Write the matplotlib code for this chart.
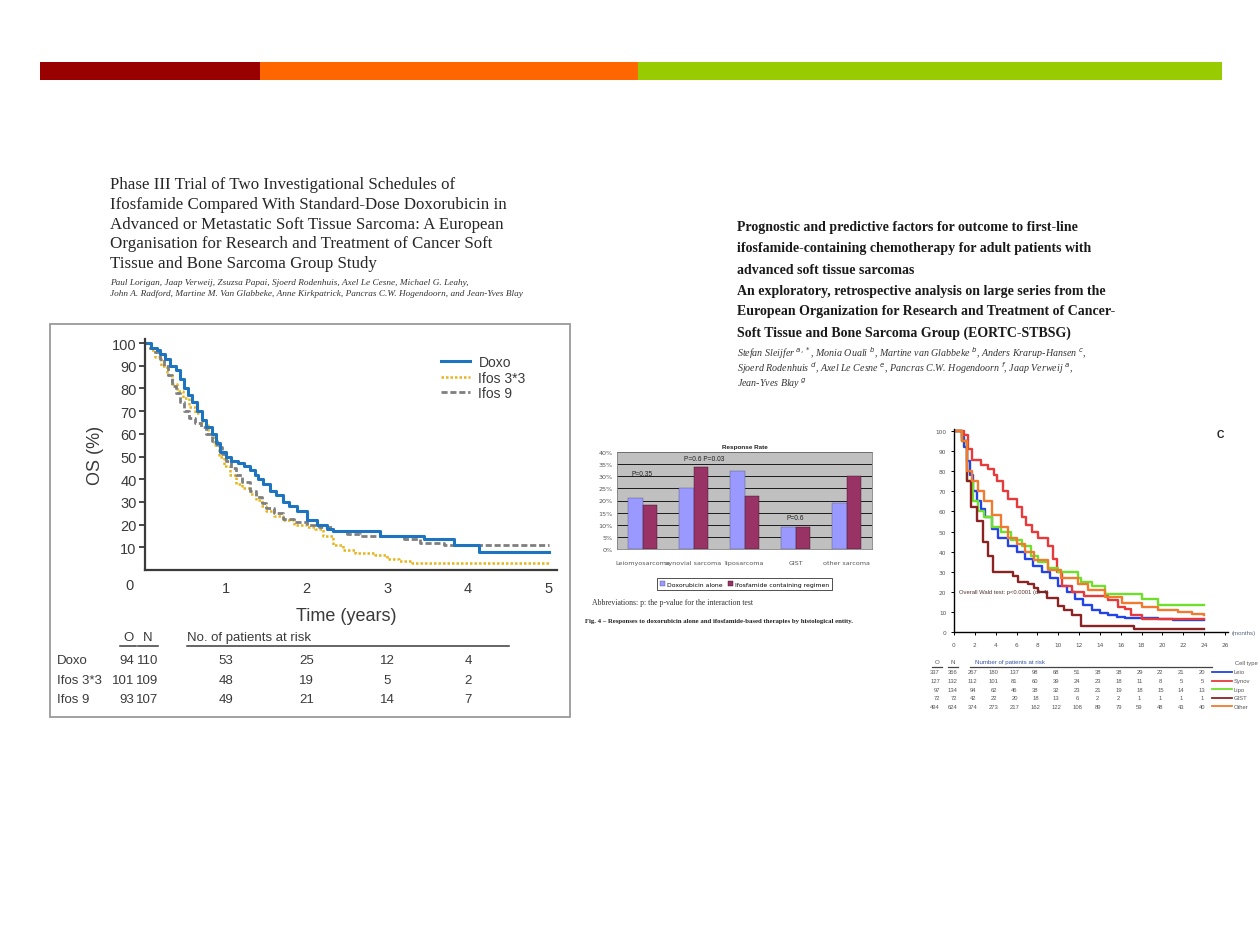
import matplotlib
matplotlib.use("Agg")
import matplotlib.pyplot as plt
from matplotlib.patches import Rectangle
from matplotlib.lines import Line2D

W, H = 1260, 945
SANS = ['Liberation Sans', 'DejaVu Sans']
SERIF = ['Liberation Serif', 'DejaVu Serif']

# ---------------- data: left KM (years, OS %) ----------------
doxo_t = [0, 0.08, 0.15, 0.19, 0.25, 0.31, 0.38, 0.43, 0.48, 0.53, 0.58, 0.64, 0.70, 0.76, 0.83, 0.88,
          0.93, 1.00, 1.07, 1.15, 1.22, 1.30, 1.36, 1.40, 1.46, 1.55, 1.62, 1.71, 1.78, 1.88, 2.00,
          2.13, 2.25, 2.33, 2.91, 3.45, 3.82, 4.13, 5.0]
doxo_s = [100, 98, 97, 95, 93, 90, 88, 84, 80, 77, 74, 70, 66, 63, 60, 56,
          52, 50, 48, 47, 46, 44, 42, 40, 38, 35, 33, 30, 28, 26, 22,
          20, 18, 17, 15, 13.6, 10.9, 8, 8]
ifos33_t = [0, 0.06, 0.12, 0.2, 0.27, 0.33, 0.4, 0.47, 0.55, 0.62, 0.7, 0.78, 0.85, 0.92, 0.98, 1.05,
            1.13, 1.2, 1.3, 1.38, 1.45, 1.5, 1.6, 1.71, 1.85, 2.0, 2.1, 2.2, 2.33, 2.45, 2.6, 2.85,
            3.0, 3.15, 3.3, 5.0]
ifos33_s = [100, 97, 94, 90, 86, 82, 79, 76, 72, 69, 65, 60, 55, 50, 46, 42,
            38, 36, 33.5, 31, 28, 26, 24, 22, 20, 19, 18, 15, 11, 9, 7.7, 6.5,
            5, 4, 3.2, 3.2]
ifos9_t = [0, 0.06, 0.12, 0.18, 0.24, 0.29, 0.33, 0.38, 0.43, 0.48, 0.55, 0.62, 0.69, 0.76, 0.83, 0.89,
           0.95, 1.0, 1.06, 1.13, 1.2, 1.3, 1.38, 1.45, 1.5, 1.6, 1.71, 1.85, 2.0, 2.15, 2.33, 2.5,
           2.66, 3.2, 3.4, 3.7, 5.0]
ifos9_s = [100, 98, 96, 93, 90, 86, 81, 78, 74, 70, 67, 65, 63, 60, 57, 54,
           51, 48, 45, 42, 39, 35, 32, 29.5, 27.5, 25, 22.5, 21, 20, 19, 17, 16,
           15, 13.6, 12, 11, 11]
left_years = [1, 2, 3, 4, 5]
left_groups = ['Doxo', 'Ifos 3*3', 'Ifos 9']
left_O = [94, 101, 93]
left_N = [110, 109, 107]
left_risk = [[53, 25, 12, 4], [48, 19, 5, 2], [49, 21, 14, 7]]

# ---------------- data: bar chart ----------------
bar_categories = ['Leiomyosarcoma', 'synovial sarcoma', 'liposarcoma', 'GIST', 'other sarcoma']
doxo_rr = [21, 25, 32, 9, 19]
ifos_rr = [18, 34, 22, 9, 30]
bar_series = ['Doxorubicin alone', 'Ifosfamide containing regimen']
p_labels = [(0, 31, 'P=0.35'), (1.2, 37.5, 'P=0.6 P=0.03'), (3, 13, 'P=0.6')]

# ---------------- data: right KM (months, %) ----------------
leio_t = [0, 0.8, 1.0, 1.2, 1.5, 1.8, 2.2, 2.6, 3.0, 3.6, 4.2, 5.2, 6.0, 6.8, 7.6, 8.4, 9.2, 10, 10.8,
          11.6, 12.4, 13.2, 14, 14.8, 15.6, 16.4, 19.6, 21, 24]
leio_s = [100, 97, 92, 85, 78, 70, 65, 61, 57, 51, 47, 43, 40, 36.5, 33, 30, 27, 23, 20,
          16.6, 13.5, 10.8, 9.5, 8.3, 7.5, 7, 6.6, 6, 5.8]
syn_t = [0, 1.0, 1.3, 1.7, 2.6, 3.3, 3.8, 4.1, 4.7, 5.2, 6.0, 6.5, 6.9, 7.5, 8.1, 9.0, 9.5, 9.9, 10.4,
         11.3, 12.5, 14.8, 15.7, 16.4, 17.0, 18.0, 20.2, 24]
syn_s = [100, 98, 91, 85.4, 83, 81, 78, 75, 70, 66, 62, 57, 53, 50, 47, 43, 36.5, 30, 23,
         20, 18, 15.8, 12.5, 11.6, 8.3, 6.6, 6.3, 6.3]
lipo_t = [0, 0.8, 1.2, 1.8, 2.3, 2.9, 3.6, 4.5, 5.5, 6.5, 7.4, 8.1, 9.0, 10, 11.9, 12.2, 13.2, 14.5,
          18, 19.6, 24]
lipo_s = [100, 95, 75, 65, 60, 57, 52, 50, 46, 43, 38, 35, 32, 30, 27, 25, 23, 19,
          16.6, 13.6, 13.6]
gist_t = [0, 0.8, 1.2, 1.66, 2.2, 2.8, 3.3, 3.7, 5.7, 6.1, 7.1, 7.7, 8.1, 8.9, 10.0, 10.6, 11.3,
          12.2, 17.3, 24]
gist_s = [100, 95, 75, 62, 55, 45, 38, 30, 28, 25, 24, 22, 20, 17, 13, 10.8, 8.3,
          3, 1.3, 1.3]
other_t = [0, 0.8, 1.2, 1.7, 2.3, 2.9, 3.6, 4.5, 5.2, 6.0, 6.8, 7.7, 9.0, 10.3, 11.9, 12.9, 14.5,
           16.1, 18, 19.6, 21.5, 22.8, 24]
other_s = [100, 95, 80, 75, 70, 65, 58, 52, 47, 44, 40, 36, 31, 27, 24, 21, 17.5,
           14.5, 12.4, 11, 10, 9, 8.3]
cell_types = ['Leio', 'Synov', 'Lipo', 'GIST', 'Other']
right_O = [337, 127, 97, 72, 494]
right_N = [366, 132, 134, 72, 624]
right_months = [2, 4, 6, 8, 10, 12, 14, 16, 18, 20, 22, 24]
right_risk = [[267, 180, 137, 98, 68, 51, 38, 38, 29, 22, 21, 20],
              [112, 101, 81, 60, 39, 24, 23, 18, 11, 8, 5, 5],
              [94, 62, 46, 38, 32, 23, 21, 19, 18, 15, 14, 13],
              [42, 22, 20, 18, 13, 6, 2, 2, 1, 1, 1, 1],
              [374, 273, 217, 162, 122, 108, 89, 79, 59, 48, 43, 40]]

# ---------------- figure ----------------
fig = plt.figure(figsize=(12.6, 9.45), dpi=100)
fig.patch.set_facecolor('white')


def rect(x0, y0, x1, y1):
    return [x0 / W, 1 - y1 / H, (x1 - x0) / W, (y1 - y0) / H]


def ftext(x, y, s, **kw):
    kw.setdefault('va', 'center')
    return fig.text(x / W, 1 - y / H, s, **kw)


# top colour bar
for x0, x1, c in [(40, 260, '#990000'), (260, 638, '#FF6600'), (638, 1222, '#99CC00')]:
    fig.add_artist(Rectangle((x0 / W, 1 - 81 / H), (x1 - x0) / W, 18 / H,
                             transform=fig.transFigure, color=c, lw=0))

# ---------------- left title ----------------
left_title = ["Phase III Trial of Two Investigational Schedules of",
              "Ifosfamide Compared With Standard-Dose Doxorubicin in",
              "Advanced or Metastatic Soft Tissue Sarcoma: A European",
              "Organisation for Research and Treatment of Cancer Soft",
              "Tissue and Bone Sarcoma Group Study"]
for i, line in enumerate(left_title):
    ftext(110, 185 + i * 19.8, line, family=SERIF, fontsize=12.2, color='#262626')
ftext(110, 283, "Paul Lorigan, Jaap Verweij, Zsuzsa Papai, Sjoerd Rodenhuis, Axel Le Cesne, Michael G. Leahy,",
      family=SERIF, fontsize=6.7, style='italic', color='#333333')
ftext(110, 294, "John A. Radford, Martine M. Van Glabbeke, Anne Kirkpatrick, Pancras C.W. Hogendoorn, and Jean-Yves Blay",
      family=SERIF, fontsize=6.7, style='italic', color='#333333')

# ---------------- right title ----------------
right_title = ["Prognostic and predictive factors for outcome to first-line",
               "ifosfamide-containing chemotherapy for adult patients with",
               "advanced soft tissue sarcomas",
               "An exploratory, retrospective analysis on large series from the",
               "European Organization for Research and Treatment of Cancer-",
               "Soft Tissue and Bone Sarcoma Group (EORTC-STBSG)"]
for i, line in enumerate(right_title):
    ftext(737, 228 + i * 21, line, family=SERIF, fontsize=10.0, weight='bold', color='#1a1a1a')
right_auth = ["Stefan Sleijfer $^{a,*}$, Monia Ouali $^{b}$, Martine van Glabbeke $^{b}$, Anders Krarup-Hansen $^{c}$,",
              "Sjoerd Rodenhuis $^{d}$, Axel Le Cesne $^{e}$, Pancras C.W. Hogendoorn $^{f}$, Jaap Verweij $^{a}$,",
              "Jean-Yves Blay $^{g}$"]
for i, line in enumerate(right_auth):
    ftext(737, 353 + i * 15.5, line, family=SERIF, fontsize=7.2, style='italic', color='#333333')

# ---------------- left KM panel ----------------
fig.add_artist(Rectangle((50 / W, 1 - 718 / H), 520 / W, 393 / H, transform=fig.transFigure,
                         fill=False, edgecolor='#9a9a9a', lw=1.3))
ax1 = fig.add_axes(rect(145, 340, 557, 571))
ax1.step(ifos33_t, ifos33_s, where='post', color='#E8B51E', lw=1.8, ls=(0, (1, 0.8)))
ax1.step(ifos9_t, ifos9_s, where='post', color='#7f7f7f', lw=2.0, ls=(0, (2.2, 1)))
ax1.step(doxo_t, doxo_s, where='post', color='#1F74BF', lw=2.2)
ax1.set_xlim(0, 5.1)
ax1.set_ylim(0, 101.8)
for s in ['top', 'right']:
    ax1.spines[s].set_visible(False)
for s in ['left', 'bottom']:
    ax1.spines[s].set_color('#3a3a3a')
    ax1.spines[s].set_linewidth(1.6)
ax1.set_yticks(range(10, 101, 10))
ax1.set_xticks(left_years)
ax1.tick_params(axis='y', direction='out', length=4, width=1.3, color='#3a3a3a', pad=2,
                labelsize=10.5, labelcolor='#3a3a3a')
ax1.tick_params(axis='x', length=0, pad=8, labelsize=10.5, labelcolor='#3a3a3a')
for lab in ax1.get_xticklabels() + ax1.get_yticklabels():
    lab.set_family(SANS)
ax1.patch.set_alpha(0)
ftext(129, 586, '0', family=SANS, fontsize=10.5, color='#3a3a3a', ha='center')
ftext(95, 455, 'OS (%)', family=SANS, fontsize=13, color='#3a3a3a', ha='center', rotation=90)
ftext(346, 617, 'Time (years)', family=SANS, fontsize=13, color='#3a3a3a', ha='center')
handles = [Line2D([], [], color='#1F74BF', lw=2.2),
           Line2D([], [], color='#E8B51E', lw=1.8, ls=(0, (1, 0.8))),
           Line2D([], [], color='#7f7f7f', lw=2.0, ls=(0, (2.2, 1)))]
leg = fig.legend(handles, left_groups, loc='upper left', bbox_to_anchor=(441 / W, 1 - 356 / H),
                 frameon=False, fontsize=10, handlelength=2.1, handletextpad=0.6,
                 labelspacing=0.12, borderpad=0, borderaxespad=0)
for t in leg.get_texts():
    t.set_family(SANS)
    t.set_color('#3a3a3a')

# left risk table
tc = '#3a3a3a'
ftext(128, 638, 'O', family=SANS, fontsize=9.5, color=tc, ha='center')
ftext(148, 638, 'N', family=SANS, fontsize=9.5, color=tc, ha='center')
ftext(187, 638, 'No. of patients at risk', family=SANS, fontsize=9.5, color=tc, ha='left')
for x0, x1 in [(120, 136), (138, 158), (187, 509)]:
    fig.add_artist(Line2D([x0 / W, x1 / W], [1 - 647 / H] * 2, transform=fig.transFigure,
                          color=tc, lw=1.1))
for i, g in enumerate(left_groups):
    y = 661 + i * 19.5
    ftext(57, y, g, family=SANS, fontsize=9.5, color=tc, ha='left')
    ftext(134, y, str(left_O[i]), family=SANS, fontsize=9.5, color=tc, ha='right')
    ftext(158, y, str(left_N[i]), family=SANS, fontsize=9.5, color=tc, ha='right')
    for j, v in enumerate(left_risk[i]):
        xd = ax1.transData.transform((left_years[j], 0))[0]
        fig.text(xd / fig.bbox.width + 0.0, 1 - y / H, str(v), family=SANS, fontsize=9.5,
                 color=tc, ha='center', va='center')

# ---------------- middle bar chart ----------------
ax2 = fig.add_axes(rect(617, 453, 872, 550))
ax2.set_facecolor('#C0C0C0')
xs = list(range(len(bar_categories)))
bw = 0.29
ax2.bar([x - bw / 2 for x in xs], doxo_rr, width=bw, color='#9999FF', edgecolor='#555577', lw=0.3,
        label=bar_series[0], zorder=3)
ax2.bar([x + bw / 2 for x in xs], ifos_rr, width=bw, color='#993366', edgecolor='#331122', lw=0.3,
        label=bar_series[1], zorder=3)
ax2.set_xlim(-0.5, len(bar_categories) - 0.5)
ax2.set_ylim(0, 40)
ax2.set_yticks(range(0, 41, 5))
ax2.set_yticklabels([f'{v}%' for v in range(0, 41, 5)])
ax2.yaxis.grid(True, color='black', lw=0.6, zorder=1)
ax2.set_axisbelow(True)
ax2.set_xticks(xs)
ax2.set_xticklabels(bar_categories)
ax2.tick_params(axis='both', length=0, labelsize=4.6, labelcolor='#555555', pad=3)
ax2.tick_params(axis='x', pad=8)
for s in ax2.spines.values():
    s.set_color('#808080')
    s.set_linewidth(0.6)
for xp, yp, txt in p_labels:
    ax2.text(xp, yp, txt, fontsize=4.8, color='#222222', ha='center', va='center', family=SANS)
ax2.set_title('Response Rate', fontsize=4.6, weight='bold', color='#222222', pad=3, family=SANS)
leg2 = ax2.legend(loc='upper center', bbox_to_anchor=(0.5, -0.27), ncol=2, fontsize=4.4,
                  frameon=True, fancybox=False, edgecolor='black', handlelength=0.8,
                  handleheight=0.8, handletextpad=0.3, columnspacing=1.0, borderpad=0.5)
leg2.get_frame().set_linewidth(0.6)
ftext(592, 603, 'Abbreviations: p: the p-value for the interaction test', family=SERIF,
      fontsize=5.6, color='#333333', ha='left')
ftext(585, 621, 'Fig. 4 \u2013 Responses to doxorubicin alone and ifosfamide-based therapies by histological entity.',
      family=SERIF, fontsize=4.9, weight='bold', color='#222222', ha='left')

# ---------------- right KM ----------------
ax3 = fig.add_axes(rect(954, 430, 1228, 633))
km_cols = ['#2244E6', '#E83A3A', '#6EE02A', '#8B2323', '#F07A30']
for (t, s), c in zip([(leio_t, leio_s), (syn_t, syn_s), (lipo_t, lipo_s), (gist_t, gist_s),
                      (other_t, other_s)], km_cols):
    ax3.step(t, s, where='post', color=c, lw=1.7)
ax3.set_xlim(0, 26.3)
ax3.set_ylim(0, 101)
ax3.set_xticks(range(0, 27, 2))
ax3.set_yticks(range(0, 101, 10))
for s in ['top', 'right']:
    ax3.spines[s].set_visible(False)
for s in ['left', 'bottom']:
    ax3.spines[s].set_linewidth(1.0)
ax3.tick_params(axis='both', direction='out', length=2.5, width=0.7, labelsize=4.2,
                labelcolor='#555555', pad=3)
ax3.tick_params(axis='x', pad=5)
ax3.patch.set_alpha(0)
ax3.text(0.5, 20, 'Overall Wald test: p<0.0001 (df=4)', fontsize=4.2, color='#553333',
         family=SANS, ha='left', va='center')
ftext(1220, 435, 'C', family=SANS, fontsize=7.5, weight='bold', color='#222222', ha='center')
ftext(1232, 634, '(months)', family=SANS, fontsize=4.4, color='#556677', ha='left')

# right risk table
rc = '#555555'
ftext(937, 663, 'O', family=SANS, fontsize=4.4, color=rc, ha='center')
ftext(953, 663, 'N', family=SANS, fontsize=4.4, color=rc, ha='center')
ftext(975, 663, 'Number of patients at risk', family=SANS, fontsize=4.4, color='#3355aa', ha='left')
ftext(1235, 664, 'Cell type', family=SANS, fontsize=4.2, color=rc, ha='left')
for x0, x1 in [(932, 942), (948, 958), (970, 1212)]:
    fig.add_artist(Line2D([x0 / W, x1 / W], [1 - 668 / H] * 2, transform=fig.transFigure,
                          color='#444444', lw=0.9))
for i, ct in enumerate(cell_types):
    y = 673 + i * 8.6
    ftext(940, y, str(right_O[i]), family=SANS, fontsize=4.2, color=rc, ha='right')
    ftext(957, y, str(right_N[i]), family=SANS, fontsize=4.2, color=rc, ha='right')
    for j, v in enumerate(right_risk[i]):
        xd = ax3.transData.transform((right_months[j], 0))[0]
        fig.text(xd / fig.bbox.width - 2 / W, 1 - y / H, str(v), family=SANS, fontsize=4.2,
                 color=rc, ha='center', va='center')
    fig.add_artist(Line2D([1212 / W, 1232 / W], [1 - y / H] * 2, transform=fig.transFigure,
                          color=km_cols[i], lw=1.3))
    ftext(1234, y, ct, family=SANS, fontsize=4.2, color=rc, ha='left')

fig.savefig('out.png', dpi=100)
